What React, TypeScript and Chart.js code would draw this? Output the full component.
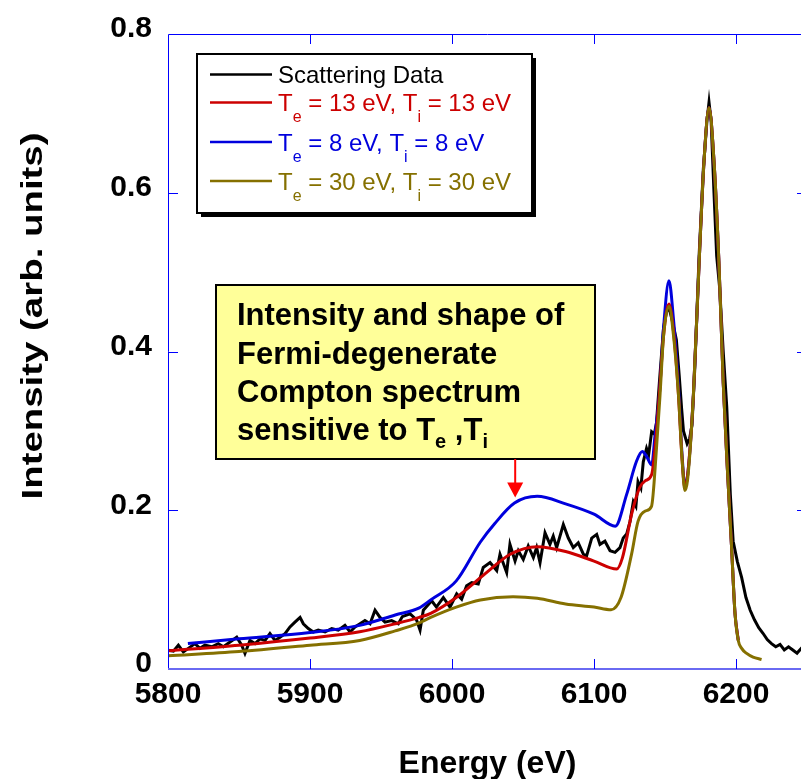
import React, { useEffect, useRef } from 'react';
import { Chart, registerables } from 'chart.js';

Chart.register(...registerables);

const FONT = '"Liberation Sans", Arial, Helvetica, sans-serif';

// ---- axis ticks ----
const xTickValues = [5800, 5900, 6000, 6100, 6200];
const yTickValues = [0, 0.2, 0.4, 0.6, 0.8];

// ---- Scattering data (black) ----
const blackEnergy = [
  5800.2, 5803.8, 5807.3, 5810.8, 5814.3, 5819, 5822.5, 5826, 5830.8, 5835.4, 5839, 5843.7, 5848.4, 5851.9,
  5854.2, 5857.7, 5861.3, 5864.8, 5868.3, 5871.8, 5875.4, 5878.9, 5882.4, 5885.9, 5889.4, 5893, 5895.3,
  5898.8, 5902.3, 5905.8, 5910.6, 5915.3, 5919.9, 5924.6, 5928.2, 5931.7, 5935.2, 5938.7, 5942.3, 5945.8,
  5949.3, 5952.8, 5957.5, 5962.2, 5965, 5970.4, 5975, 5977.5, 5979.8, 5985.7, 5989, 5993.9, 5998.6, 6003.3,
  6006.8, 6010.3, 6013.9, 6018.5, 6022, 6026.8, 6031.5, 6033.8, 6038.5, 6040.8, 6044.4, 6046.7, 6050.2,
  6053.7, 6057.3, 6059.6, 6062, 6065.5, 6069, 6071.3, 6073.7, 6078.4, 6081.9, 6085.4, 6088.9, 6092.5,
  6094.8, 6098.4, 6101.9, 6104.2, 6107.7, 6111.3, 6114.8, 6118.3, 6120.6, 6123, 6125.4, 6127.7, 6129.5,
  6131, 6133, 6134.7, 6137, 6138.5, 6140.6, 6142.5, 6144, 6146, 6149, 6151, 6152.8, 6155, 6158, 6160,
  6161.7, 6163, 6165.6, 6167.3, 6169, 6171, 6174, 6177, 6179.5, 6181, 6182.5, 6184.5, 6186.4, 6188.5,
  6191, 6193.5, 6196, 6198, 6201, 6204, 6207, 6210, 6213, 6216, 6219, 6222, 6225, 6228, 6231, 6234,
  6237, 6240, 6243, 6246, 6250,
];
const blackIntensity = [
  0.0237, 0.0225, 0.030, 0.0216, 0.026, 0.032, 0.026, 0.030, 0.028, 0.032, 0.028, 0.034, 0.040, 0.030,
  0.0196, 0.036, 0.032, 0.038, 0.036, 0.0446, 0.036, 0.040, 0.0446, 0.053, 0.059, 0.065, 0.057,
  0.051, 0.0466, 0.049, 0.0466, 0.051, 0.049, 0.055, 0.0466, 0.053, 0.057, 0.061, 0.057, 0.074,
  0.065, 0.059, 0.061, 0.057, 0.066, 0.0696, 0.062, 0.049, 0.074, 0.086, 0.078, 0.090, 0.078, 0.0946,
  0.088, 0.105, 0.109, 0.107, 0.128, 0.134, 0.124, 0.1446, 0.1216, 0.157, 0.136, 0.149, 0.138,
  0.155, 0.1404, 0.153, 0.134, 0.1716, 0.157, 0.1675, 0.153, 0.182, 0.165, 0.153, 0.159, 0.1446,
  0.1425, 0.165, 0.1696, 0.157, 0.161, 0.149, 0.147, 0.153, 0.165, 0.170, 0.186, 0.211, 0.205,
  0.236, 0.228, 0.261, 0.278, 0.270, 0.299, 0.296, 0.31, 0.36, 0.43, 0.45, 0.455, 0.44, 0.415, 0.37,
  0.328, 0.30, 0.284, 0.29, 0.307, 0.38, 0.52, 0.63, 0.69, 0.714, 0.69, 0.60, 0.52, 0.48,
  0.40, 0.33, 0.22, 0.161, 0.135, 0.115, 0.09, 0.074, 0.062, 0.052, 0.045, 0.037, 0.032, 0.028, 0.031, 0.024,
  0.028, 0.024, 0.020, 0.026, 0.020,
];

// ---- Model: Te = 13 eV, Ti = 13 eV (red) ----
const redEnergy = [
  5800, 5850, 5900, 5935, 5960, 5977, 5985, 6003, 6020, 6030, 6041, 6060, 6080, 6100, 6116, 6120, 6126.5,
  6132, 6136, 6140.6, 6143, 6146, 6149, 6152.8, 6156, 6159.5, 6162, 6164, 6166, 6170, 6174, 6177.5, 6181,
  6184.5, 6188, 6191, 6194, 6196.9, 6199.3, 6201.6,
];
const redIntensity = [
  0.023, 0.030, 0.039, 0.047, 0.057, 0.065, 0.070, 0.090, 0.115, 0.130, 0.1446, 0.154, 0.148, 0.136, 0.126, 0.14, 0.195,
  0.228, 0.237, 0.245, 0.278, 0.345, 0.42, 0.46, 0.425, 0.345, 0.265, 0.228, 0.245, 0.345, 0.511, 0.64, 0.707,
  0.64, 0.511, 0.361, 0.25, 0.153, 0.07, 0.036,
];

// ---- Model: Te = 8 eV, Ti = 8 eV (blue) ----
const blueEnergy = [
  5814, 5850, 5900, 5935, 5960, 5977, 5985, 6003, 6020, 6030, 6044, 6060, 6080, 6100, 6115, 6123, 6130,
  6134, 6137, 6140.6, 6143, 6146, 6149, 6152.8, 6156, 6159.5, 6162, 6164, 6166, 6170, 6174, 6177.5, 6181,
  6184.5, 6188, 6191, 6194, 6196.9, 6199.3, 6201.6,
];
const blueIntensity = [
  0.032, 0.038, 0.046, 0.055, 0.068, 0.077, 0.087, 0.111, 0.160, 0.183, 0.209, 0.2175, 0.208, 0.195, 0.180, 0.220, 0.262,
  0.274, 0.268, 0.257, 0.295, 0.345, 0.430, 0.489, 0.440, 0.355, 0.27, 0.232, 0.245, 0.345, 0.511, 0.64, 0.707,
  0.64, 0.511, 0.361, 0.25, 0.153, 0.07, 0.036,
];

// ---- Model: Te = 30 eV, Ti = 30 eV (olive) ----
const oliveEnergy = [
  5800, 5850, 5900, 5935, 5960, 5977, 5985, 6003, 6020, 6043, 6060, 6080, 6100, 6112, 6119, 6126.5, 6131,
  6136, 6140.5, 6144, 6146.5, 6149, 6152.8, 6156, 6159.5, 6162, 6164, 6166, 6170, 6174, 6177.5, 6181,
  6184.5, 6188, 6191, 6194, 6196.9, 6199.3, 6201.6, 6204, 6207.5, 6212, 6218,
];
const oliveIntensity = [
  0.0167, 0.022, 0.030, 0.036, 0.048, 0.058, 0.065, 0.078, 0.087, 0.091, 0.089, 0.082, 0.078, 0.0746, 0.09, 0.145, 0.186,
  0.199, 0.205, 0.278, 0.345, 0.42, 0.457, 0.42, 0.345, 0.265, 0.225, 0.24, 0.345, 0.511, 0.64, 0.707,
  0.64, 0.511, 0.361, 0.25, 0.153, 0.07, 0.036, 0.026, 0.0196, 0.015, 0.012,
];

// ---- Legend ----
const legendColors = ['#000000', '#cc0000', '#0000dd', '#857000'];
const legendTe = [13, 8, 30];
const legendTi = [13, 8, 30];

// ---- Annotation ----
const annotationLines = ['Intensity and shape of', 'Fermi-degenerate', 'Compton spectrum', 'sensitive to T'];
const arrowTarget = { energy: 6044.5, intensity: 0.216 };

const toPoints = (xs: number[], ys: number[]) => xs.map((x, i) => ({ x, y: ys[i] }));

type Seg = { t: string; sub?: boolean };

function drawSegs(ctx: CanvasRenderingContext2D, segs: Seg[], x: number, y: number, main: string, sub: string, subDy: number) {
  let cx = x;
  for (const s of segs) {
    ctx.font = s.sub ? sub : main;
    ctx.fillText(s.t, cx, s.sub ? y + subDy : y);
    cx += ctx.measureText(s.t).width;
  }
}

const decorPlugin = {
  id: 'decor',
  afterDatasetsDraw(chart: any) {
    const ctx: CanvasRenderingContext2D = chart.ctx;
    const { left, right, top, bottom } = chart.chartArea;
    const xs = chart.scales.x;
    const ys = chart.scales.y;
    ctx.save();
    // frame
    ctx.strokeStyle = '#0000ff';
    ctx.lineWidth = 1;
    ctx.beginPath();
    ctx.moveTo(left + 0.5, bottom);
    ctx.lineTo(left + 0.5, top + 0.5);
    ctx.lineTo(right - 0.5, top + 0.5);
    ctx.lineTo(right - 0.5, bottom);
    ctx.stroke();
    ctx.strokeStyle = '#6a6af2';
    ctx.lineWidth = 2;
    ctx.beginPath();
    ctx.moveTo(left, bottom);
    ctx.lineTo(right, bottom);
    ctx.stroke();
    // inward ticks
    ctx.strokeStyle = '#0000ff';
    ctx.lineWidth = 1;
    ctx.beginPath();
    for (const v of xTickValues) {
      const px = Math.round(xs.getPixelForValue(v)) + 0.5;
      if (px <= left + 1) continue;
      ctx.moveTo(px, bottom);
      ctx.lineTo(px, bottom - 10);
      ctx.moveTo(px, top);
      ctx.lineTo(px, top + 10);
    }
    for (const v of yTickValues) {
      const py = Math.round(ys.getPixelForValue(v)) + 0.5;
      if (py >= bottom - 1 || py <= top + 1) continue;
      ctx.moveTo(left, py);
      ctx.lineTo(left + 10, py);
      ctx.moveTo(right, py);
      ctx.lineTo(right - 10, py);
    }
    ctx.stroke();

    // legend box with shadow
    const lx = 197, ly = 54, lw = 335, lh = 159;
    ctx.fillStyle = '#000';
    ctx.fillRect(lx + 4, ly + 4, lw, lh);
    ctx.fillStyle = '#fff';
    ctx.fillRect(lx, ly, lw, lh);
    ctx.strokeStyle = '#000';
    ctx.lineWidth = 2;
    ctx.strokeRect(lx, ly, lw, lh);
    const rowY = [74.5, 102.5, 142, 181];
    const mainFont = `24px ${FONT}`;
    const subFont = `16px ${FONT}`;
    ctx.textBaseline = 'alphabetic';
    ctx.textAlign = 'left';
    for (let i = 0; i < 4; i++) {
      ctx.strokeStyle = legendColors[i];
      ctx.lineWidth = 2.5;
      ctx.beginPath();
      ctx.moveTo(210, rowY[i]);
      ctx.lineTo(272, rowY[i]);
      ctx.stroke();
      ctx.fillStyle = legendColors[i];
      let segs: Seg[];
      if (i === 0) segs = [{ t: 'Scattering Data' }];
      else
        segs = [
          { t: 'T' }, { t: 'e', sub: true }, { t: ` = ${legendTe[i - 1]} eV, T` }, { t: 'i', sub: true },
          { t: ` = ${legendTi[i - 1]} eV` },
        ];
      drawSegs(ctx, segs, 278, rowY[i] + 8.5, mainFont, subFont, 11);
    }

    // annotation box
    const ax = 216, ay = 285, aw = 379, ah = 174;
    ctx.fillStyle = '#ffff99';
    ctx.fillRect(ax, ay, aw, ah);
    ctx.strokeStyle = '#000';
    ctx.lineWidth = 2;
    ctx.strokeRect(ax, ay, aw, ah);
    ctx.fillStyle = '#000';
    const aMain = `bold 31px ${FONT}`;
    const aSub = `bold 20px ${FONT}`;
    const base = [325, 363.5, 402, 440];
    for (let i = 0; i < annotationLines.length; i++) {
      const segs: Seg[] = [{ t: annotationLines[i] }];
      if (i === annotationLines.length - 1) {
        segs.push({ t: 'e', sub: true }, { t: ' ,T' }, { t: 'i', sub: true });
      }
      drawSegs(ctx, segs, 237, base[i], aMain, aSub, 8);
    }

    // arrow
    const tx = xs.getPixelForValue(arrowTarget.energy);
    const ty = ys.getPixelForValue(arrowTarget.intensity);
    ctx.strokeStyle = '#ff0000';
    ctx.fillStyle = '#ff0000';
    ctx.lineWidth = 2;
    ctx.beginPath();
    ctx.moveTo(tx, ay + ah);
    ctx.lineTo(tx, ty - 12);
    ctx.stroke();
    ctx.beginPath();
    ctx.moveTo(tx - 8, ty - 15);
    ctx.lineTo(tx + 8, ty - 15);
    ctx.lineTo(tx, ty);
    ctx.closePath();
    ctx.fill();

    // axis titles
    ctx.fillStyle = '#000';
    ctx.font = `bold 32px ${FONT}`;
    ctx.textAlign = 'center';
    ctx.textBaseline = 'middle';
    ctx.fillText('Energy (eV)', (left + right) / 2, 764);
    ctx.font = `bold 30px ${FONT}`;
    ctx.translate(34, 316);
    ctx.rotate(-Math.PI / 2);
    ctx.scale(1.28, 1);
    ctx.fillText('Intensity (arb. units)', 0, 0);
    ctx.restore();
  },
};

export default function App() {
  const ref = useRef<HTMLCanvasElement | null>(null);
  useEffect(() => {
    if (!ref.current) return;
    const tickFont = { family: FONT, size: 30, weight: 'bold' as const };
    const chart = new Chart(ref.current, {
      type: 'line',
      data: {
        datasets: [
          {
            label: 'Scattering Data',
            data: toPoints(blackEnergy, blackIntensity),
            borderColor: legendColors[0],
            borderWidth: 3,
            tension: 0,
            pointRadius: 0,
            order: 4,
          },
          {
            label: 'Te = 8 eV, Ti = 8 eV',
            data: toPoints(blueEnergy, blueIntensity),
            borderColor: legendColors[2],
            borderWidth: 3,
            cubicInterpolationMode: 'monotone',
            pointRadius: 0,
            order: 3,
          },
          {
            label: 'Te = 13 eV, Ti = 13 eV',
            data: toPoints(redEnergy, redIntensity),
            borderColor: legendColors[1],
            borderWidth: 3,
            cubicInterpolationMode: 'monotone',
            pointRadius: 0,
            order: 2,
          },
          {
            label: 'Te = 30 eV, Ti = 30 eV',
            data: toPoints(oliveEnergy, oliveIntensity),
            borderColor: legendColors[3],
            borderWidth: 3,
            cubicInterpolationMode: 'monotone',
            pointRadius: 0,
            order: 1,
          },
        ],
      },
      options: {
        responsive: false,
        animation: false,
        devicePixelRatio: 1,
        layout: { padding: { top: 29, right: 13, left: 0, bottom: 0 } },
        plugins: { legend: { display: false }, tooltip: { enabled: false } },
        scales: {
          x: {
            type: 'linear',
            min: 5800,
            max: 6250,
            afterBuildTicks: (s: any) => {
              s.ticks = xTickValues.map((v) => ({ value: v }));
            },
            grid: { display: false, drawTicks: false },
            border: { display: false },
            ticks: {
              font: tickFont,
              color: '#000',
              padding: 8,
              maxRotation: 0,
              autoSkip: false,
              includeBounds: false,
              callback: (v: any) => String(v),
            },
            afterFit: (s: any) => {
              s.height = 110;
            },
          },
          y: {
            type: 'linear',
            min: 0,
            max: 0.8,
            afterBuildTicks: (s: any) => {
              s.ticks = yTickValues.map((v) => ({ value: v }));
            },
            grid: { display: false, drawTicks: false },
            border: { display: false },
            ticks: {
              font: tickFont,
              color: '#000',
              padding: 16,
              labelOffset: -5,
              callback: (v: any) => (Number(v) === 0 ? '0' : Number(v).toFixed(1)),
            },
            afterFit: (s: any) => {
              s.width = 168;
            },
          },
        },
      },
      plugins: [decorPlugin],
    } as any);
    return () => chart.destroy();
  }, []);
  return (
    <div style={{ position: 'fixed', left: 0, top: 0, width: 801, height: 779, overflow: 'hidden', background: '#fff' }}>
      <canvas ref={ref} width={820} height={779} style={{ display: 'block' }} />
    </div>
  );
}
